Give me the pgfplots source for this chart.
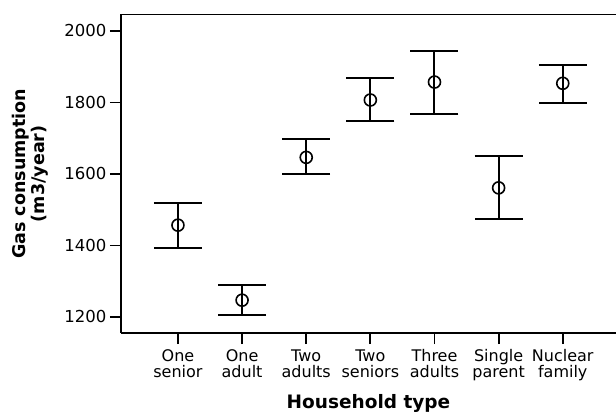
\documentclass[border=0pt]{standalone}
\usepackage{pgfplots}
\pgfplotsset{compat=1.18}
\usepackage{pgfplotstable}
\usepackage{fontspec}
\setmainfont{DejaVu Sans}
\usetikzlibrary{calc}
\pgfplotstableread{
x y ep em
1 1456.7 62.3 63.7
2 1246.8 42.0 42.8
3 1646.3 50.4 46.7
4 1806.8 61.6 58.8
5 1857.0 88.0 90.0
6 1561.0 90.0 87.4
7 1853.5 50.5 54.5
}\datatable
\begin{document}
\begin{tikzpicture}
\begin{axis}[
  name=ax,
  scale only axis,
  width=495pt, height=318.5pt,
  xmin=0.112, xmax=7.83,
  ymin=1155, ymax=2046,
  axis lines*=left,
  axis line style={line width=1.8pt},
  xtick={1,2,3,4,5,6,7},
  xticklabels={{One\\senior},{One\\adult},{Two\\adults},{Two\\seniors},{Three\\adults},{Single\\parent},{Nuclear\\family}},
  ytick={1200,1400,1600,1800,2000},
  every x tick label/.append style={align=center, font=\fontsize{16}{16}\selectfont, yshift=-2pt},
  every y tick label/.append style={font=\fontsize{16.5}{18}\selectfont},
  /pgf/number format/assume math mode=true,
  /pgf/number format/1000 sep={},
  tick style={line width=1.8pt, black},
  tick align=outside,
  major tick length=11pt,
  xlabel={Household type},
  ylabel={Gas consumption\\(m3/year)},
  xlabel style={font=\bfseries\fontsize{18.5}{20}\selectfont, yshift=-7pt},
  ylabel style={font=\bfseries\fontsize{17.5}{19}\selectfont, align=center, yshift=9pt},
  clip=false,
]
\draw[line width=1.8pt] (rel axis cs:0,1) -- (rel axis cs:1,1);
\addplot[only marks, mark=o, mark size=6pt, line width=1.6pt, black,
  error bars/.cd, y dir=both, y explicit,
  error bar style={line width=2pt, black},
  error mark=|, error mark options={mark size=24pt, line width=2pt, black}]
table[x=x, y=y, y error plus=ep, y error minus=em] {\datatable};
\end{axis}
\pgfresetboundingbox
\useasboundingbox ($(ax.south west)+(-121pt,-83pt)$) rectangle ($(ax.north east)+(0,14.5pt)$);
\end{tikzpicture}
\end{document}
